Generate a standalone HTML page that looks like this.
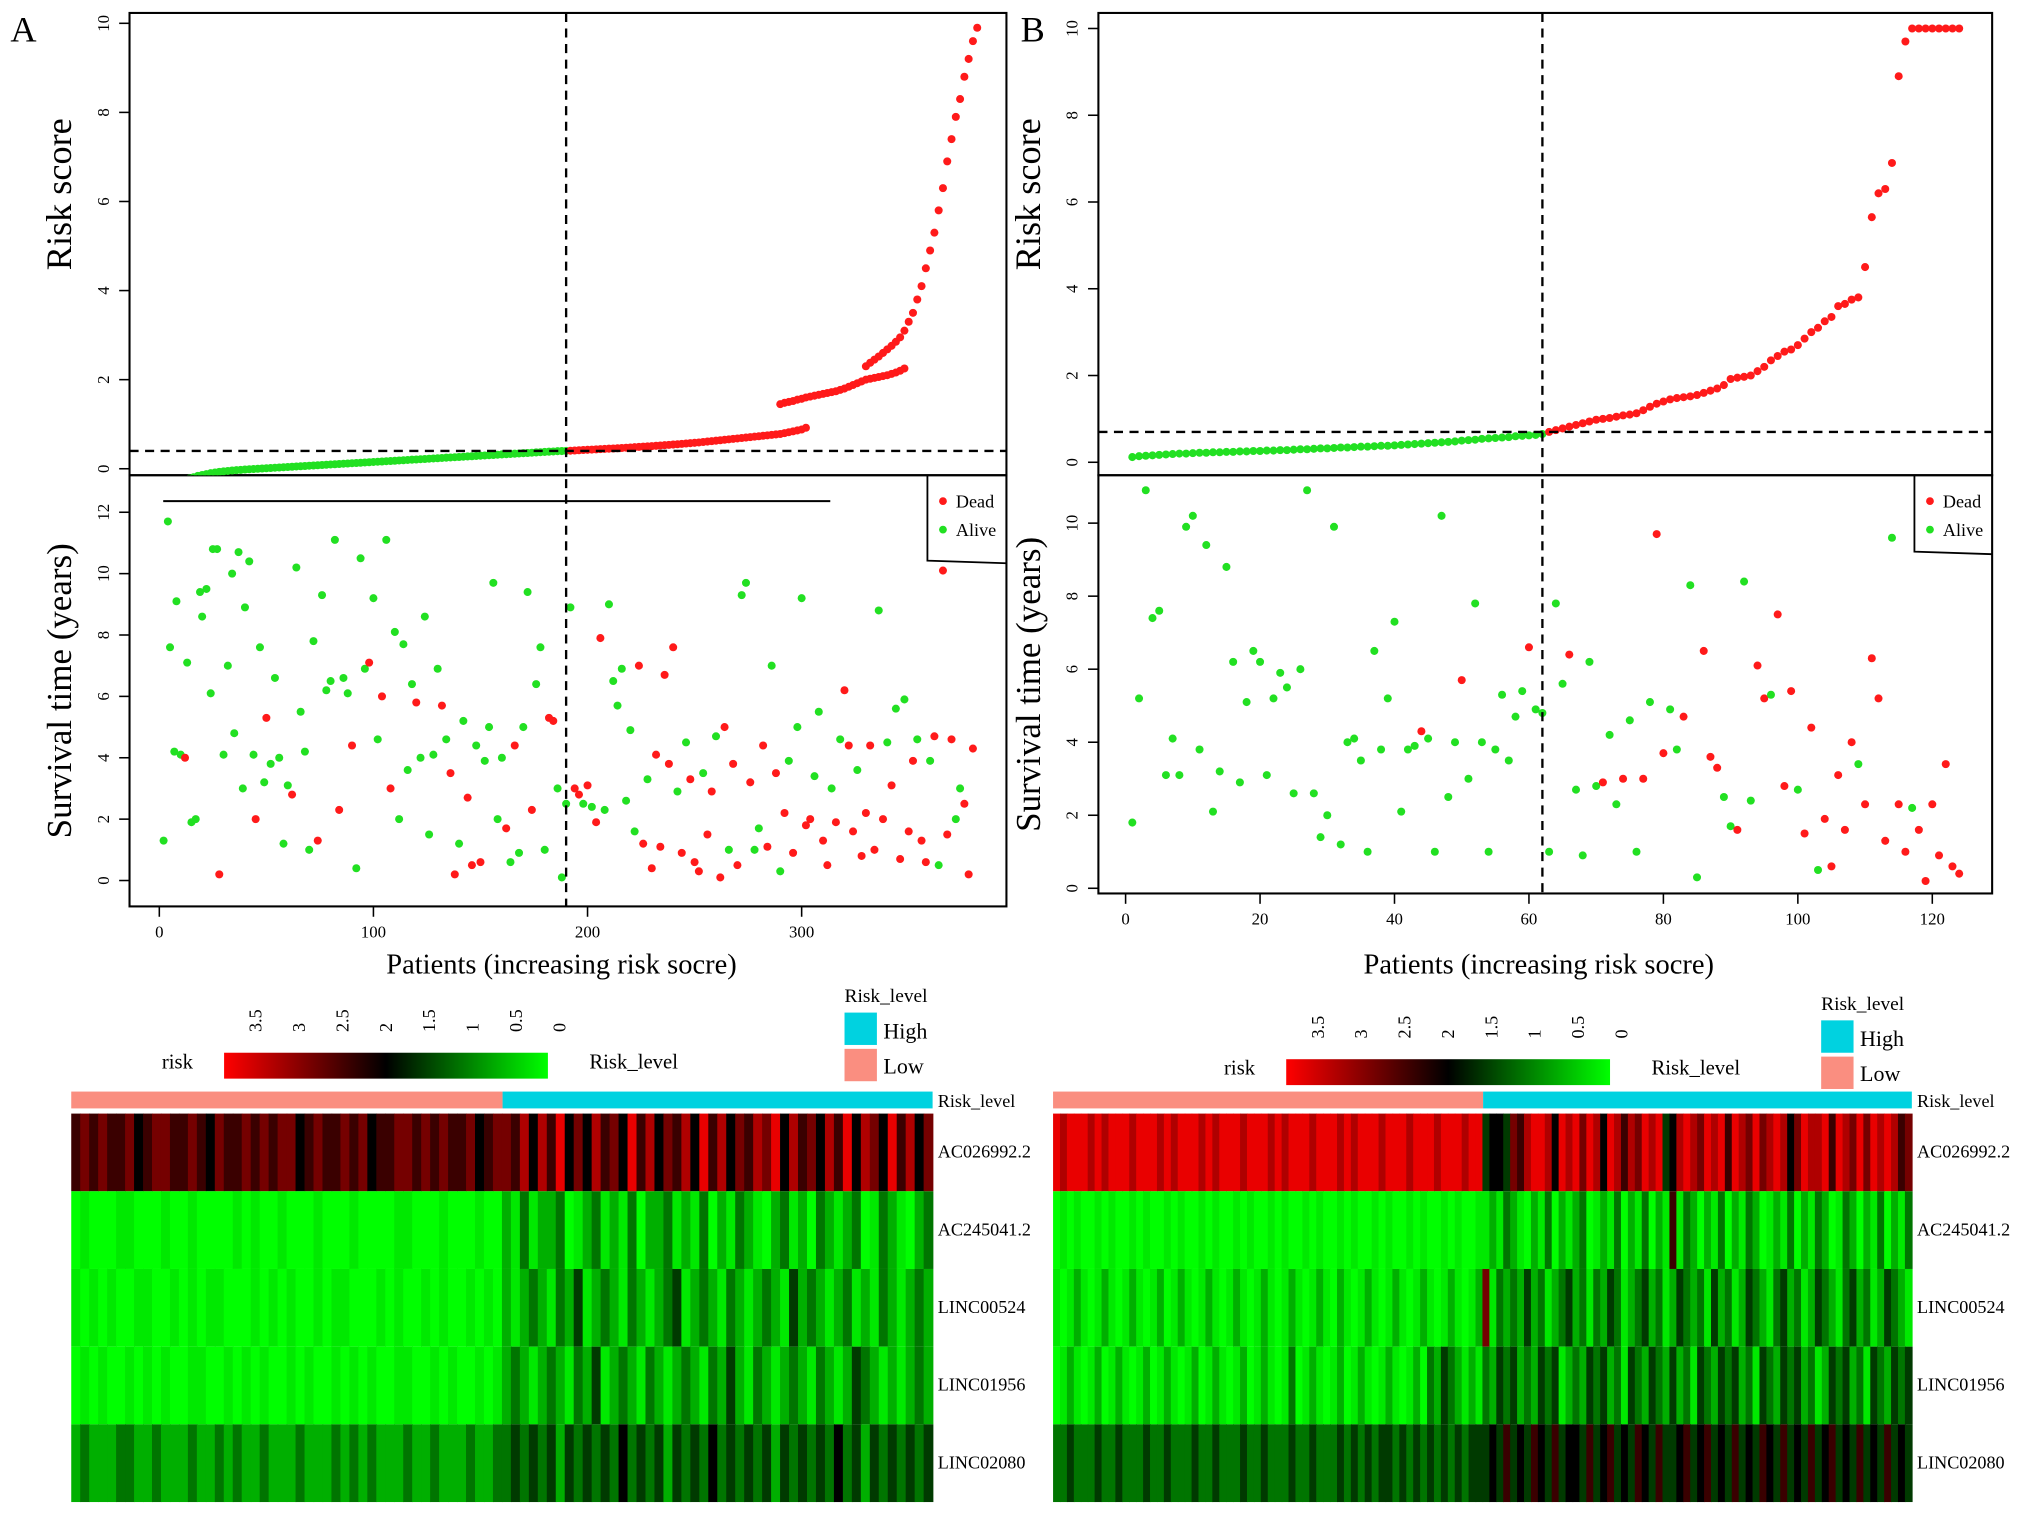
<!DOCTYPE html>
<html><head><meta charset="utf-8"><style>
html,body{margin:0;padding:0;background:#fff;}
svg{display:block;font-family:"Liberation Serif",serif;}
</style></head><body>
<svg id="fig" width="2031" height="1515" viewBox="0 0 1568 1170" preserveAspectRatio="none" xmlns="http://www.w3.org/2000/svg">
<defs>
<clipPath id="clipAT"><rect x="100" y="10" width="677" height="357"/></clipPath>
<clipPath id="clipBT"><rect x="848" y="10" width="690" height="357"/></clipPath>
<linearGradient id="riskGrad" x1="0" x2="1" y1="0" y2="0">
<stop offset="0" stop-color="#ff0000"/><stop offset="0.5" stop-color="#000000"/><stop offset="1" stop-color="#00ff00"/>
</linearGradient>
</defs>
<g id="root"></g>
</svg>
<script>
// ---------- DATA ----------
const riskA1Start = 0; // patient of first value, step 2
const riskA1 = [-0.5,-0.45,-0.4,-0.36,-0.32,-0.28,-0.25,-0.22,-0.19,-0.16,-0.14,-0.12,-0.1,-0.085,-0.07,-0.06,-0.05,-0.04,-0.032,-0.025,-0.018,-0.012,-0.006,0.0,
0.006,0.011,0.017,0.023,0.028,0.034,0.039,0.045,0.051,0.056,
0.062,0.068,0.073,0.079,0.084,0.09,0.096,0.101,0.107,0.113,
0.118,0.124,0.129,0.135,0.141,0.146,0.152,0.158,0.163,0.169,
0.174,0.18,0.186,0.191,0.197,0.203,0.208,0.214,0.219,0.225,
0.231,0.236,0.242,0.248,0.253,0.259,0.264,0.27,0.276,0.281,
0.287,0.293,0.298,0.304,0.309,0.315,0.321,0.326,0.332,0.338,
0.343,0.349,0.354,0.36,0.366,0.371,0.377,0.383,0.388,0.394,
0.397,0.4,
0.405,0.41,0.415,0.42,0.425,0.43,0.435,0.44,0.445,0.45,
0.455,0.46,0.466,0.472,0.478,0.484,0.49,0.496,0.502,0.508,
0.515,0.522,0.529,0.536,0.543,0.55,0.558,0.566,0.574,0.582,
0.59,0.6,0.61,0.62,0.63,0.64,0.65,0.66,0.67,0.68,
0.69,0.7,0.71,0.72,0.73,0.74,0.75,0.76,0.77,0.78,
0.8,0.82,0.84,0.86,0.88,0.92];
const riskA2Start = 290;
const riskA2 = [1.45,1.48,1.5,1.52,1.55,1.57,1.6,1.62,1.64,1.66,1.68,1.7,1.72,1.74,1.77,1.8,1.84,1.88,1.92,1.96,
2.3,2.38,2.45,2.52,2.6,2.68,2.76,2.85,2.95,3.1,3.3,3.5,3.8,4.1,4.5,4.9,5.3,5.8,6.3,6.9,7.4,7.9,8.3,8.8,9.2,9.6,9.9];
const riskA3Start = 330;
const riskA3 = [2.0,2.02,2.04,2.06,2.08,2.1,2.13,2.16,2.2,2.25];
const cutA = 190, cutValA = 0.4;

const survPatA = [2,4,5,7,8,10,12,13,15,17, 19,20,22,24,25,27,28,30,32,34, 35,37,39,40,42,44,45,47,49,50,
52,54,56,58,60,62,64,66,68,70, 72,74,76,78,80,82,84,86,88,90, 92,94,96,98,100,102,104,106,108,110,
112,114,116,118,120,122,124,126,128,130, 132,134,136,138,140,142,144,146,148,150, 152,154,156,158,160,162,164,166,168,170,
172,174,176,178,180,182,184,186,188,190, 192,194,196,198,200,202,204,206,208,210, 212,214,216,218,220,222,224,226,228,230,
232,234,236,238,240,242,244,246,248,250, 252,254,256,258,260,262,264,266,268,270, 272,274,276,278,280,282,284,286,288,290,
292,294,296,298,300,302,304,306,308,310, 312,314,316,318,320,322,324,326,328,330, 332,334,336,338,340,342,344,346,348,350,
352,354,356,358,360,362,364,366,368,370, 372,374,376,378,380];
const survYrsA = [1.3,11.7,7.6,4.2,9.1,4.1,4.0,7.1,1.9,2.0, 9.4,8.6,9.5,6.1,10.8,10.8,0.2,4.1,7.0,10.0, 4.8,10.7,3.0,8.9,10.4,4.1,2.0,7.6,3.2,5.3,
3.8,6.6,4.0,1.2,3.1,2.8,10.2,5.5,4.2,1.0, 7.8,1.3,9.3,6.2,6.5,11.1,2.3,6.6,6.1,4.4, 0.4,10.5,6.9,7.1,9.2,4.6,6.0,11.1,3.0,8.1,
2.0,7.7,3.6,6.4,5.8,4.0,8.6,1.5,4.1,6.9, 5.7,4.6,3.5,0.2,1.2,5.2,2.7,0.5,4.4,0.6, 3.9,5.0,9.7,2.0,4.0,1.7,0.6,4.4,0.9,5.0,
9.4,2.3,6.4,7.6,1.0,5.3,5.2,3.0,0.1,2.5, 8.9,3.0,2.8,2.5,3.1,2.4,1.9,7.9,2.3,9.0, 6.5,5.7,6.9,2.6,4.9,1.6,7.0,1.2,3.3,0.4,
4.1,1.1,6.7,3.8,7.6,2.9,0.9,4.5,3.3,0.6, 0.3,3.5,1.5,2.9,4.7,0.1,5.0,1.0,3.8,0.5, 9.3,9.7,3.2,1.0,1.7,4.4,1.1,7.0,3.5,0.3,
2.2,3.9,0.9,5.0,9.2,1.8,2.0,3.4,5.5,1.3, 0.5,3.0,1.9,4.6,6.2,4.4,1.6,3.6,0.8,2.2, 4.4,1.0,8.8,2.0,4.5,3.1,5.6,0.7,5.9,1.6,
3.9,4.6,1.3,0.6,3.9,4.7,0.5,10.1,1.5,4.6, 2.0,3.0,2.5,0.2,4.3];
const survDeadA = [0,0,0,0,0,0,1,0,0,0, 0,0,0,0,0,0,1,0,0,0, 0,0,0,0,0,0,1,0,0,1,
0,0,0,0,0,1,0,0,0,0, 0,1,0,0,0,0,1,0,0,1, 0,0,0,1,0,0,1,0,1,0,
0,0,0,0,1,0,0,0,0,0, 1,0,1,1,0,0,1,1,0,1, 0,0,0,0,0,1,0,1,0,0,
0,1,0,0,0,1,1,0,0,0, 0,1,1,0,1,0,1,1,0,0, 0,0,0,0,0,0,1,1,0,1,
1,1,1,1,1,0,1,0,1,1, 1,0,1,1,0,1,1,0,1,1, 0,0,1,0,0,1,1,0,1,0,
1,0,1,0,0,1,1,0,0,1, 1,0,1,0,1,1,1,0,1,1, 1,1,0,1,0,1,0,1,0,1,
1,0,1,1,0,1,0,1,1,1, 0,0,1,1,1];

const riskB = [0.12,0.14,0.15,0.16,0.17,0.18,0.19,0.2,0.2,0.21,
0.22,0.22,0.23,0.23,0.24,0.24,0.25,0.25,0.26,0.26,
0.27,0.27,0.28,0.28,0.29,0.3,0.3,0.31,0.32,0.32,
0.33,0.34,0.34,0.35,0.36,0.36,0.37,0.38,0.38,0.39,
0.4,0.41,0.42,0.43,0.44,0.45,0.46,0.47,0.48,0.5,
0.51,0.52,0.54,0.55,0.56,0.57,0.58,0.6,0.61,0.62,
0.63,0.65,0.7,0.74,0.78,0.82,0.86,0.9,0.94,0.98,
1.0,1.02,1.05,1.08,1.1,1.13,1.2,1.28,1.35,1.4,
1.45,1.48,1.5,1.52,1.55,1.6,1.65,1.7,1.78,1.92,
1.95,1.97,2.0,2.1,2.2,2.35,2.45,2.55,2.6,2.7,
2.85,3.0,3.1,3.25,3.35,3.6,3.65,3.75,3.8,4.5,
5.65,6.2,6.3,6.9,8.9,9.7,10,10,10,10,10,10,10,10];
const cutB = 62, cutValB = 0.7;
const survYrsB = [1.8,5.2,10.9,7.4,7.6,3.1,4.1,3.1,9.9,10.2, 3.8,9.4,2.1,3.2,8.8,6.2,2.9,5.1,6.5,6.2,
3.1,5.2,5.9,5.5,2.6,6.0,10.9,2.6,1.4,2.0, 9.9,1.2,4.0,4.1,3.5,1.0,6.5,3.8,5.2,7.3,
2.1,3.8,3.9,4.3,4.1,1.0,10.2,2.5,4.0,5.7, 3.0,7.8,4.0,1.0,3.8,5.3,3.5,4.7,5.4,6.6,
4.9,4.8,1.0,7.8,5.6,6.4,2.7,0.9,6.2,2.8, 2.9,4.2,2.3,3.0,4.6,1.0,3.0,5.1,9.7,3.7,
4.9,3.8,4.7,8.3,0.3,6.5,3.6,3.3,2.5,1.7, 1.6,8.4,2.4,6.1,5.2,5.3,7.5,2.8,5.4,2.7,
1.5,4.4,0.5,1.9,0.6,3.1,1.6,4.0,3.4,2.3, 6.3,5.2,1.3,9.6,2.3,1.0,2.2,1.6,0.2,2.3,
0.9,3.4,0.6,0.4];
const survDeadB = [0,0,0,0,0,0,0,0,0,0, 0,0,0,0,0,0,0,0,0,0, 0,0,0,0,0,0,0,0,0,0, 0,0,0,0,0,0,0,0,0,0,
0,0,0,1,0,0,0,0,0,1, 0,0,0,0,0,0,0,0,0,1, 0,0,0,0,0,1,0,0,0,0, 1,0,0,1,0,0,1,0,1,1,
0,0,1,0,0,1,1,1,0,0, 1,0,0,1,1,0,1,1,1,0, 1,1,0,1,1,1,1,1,0,1, 1,1,1,0,1,1,0,1,1,1, 1,1,1,1];

const genes = ["AC026992.2","AC245041.2","LINC00524","LINC01956","LINC02080"];
const heatA = [
"676766756776676576676767756766767566776767667567768586957586759685768596857687958675869587596857",
"010001100010010000101001000100010000110001000100213122301231213022312130213210231203212301321023",
"101010011001010110001010100101100010100101001010212321324123213212341232132123214232123121321232",
"010100101010011001010100101001010100110010100101232123213241232132123213242132123213212432121232",
"232223322322232232322322232223232322232232223223343434243434353434243435343434243434353424343434"];
const heatB = [
"9899989899989998989998989998999898999899989899989998999899989945547689985989798598687989458987989698797898579889698797989867",
"0101001010010100101001010010100101001010010100101001010010100112132102130212301213021302161320213021320121302132013202130213",
"1012101210121012012101210121012101210121021012101210121012101271323242312342313243123423124323142312432134231243213423124321",
"0121012012101201210120121012012101301210120121012101203243212132434232434123243423143243242314324342314324342312434231432434",
"3343334334333433433343343334334333433433343434344343434343434445464546546455464564546546445645645464546546454645645464546454"];
const legendTicks = ["3.5","3","2.5","2","1.5","1","0.5","0"];
const xTicksA = [0,100,200,300], yTicksAT=[0,2,4,6,8,10], yTicksAB=[0,2,4,6,8,10,12];
const xTicksB = [0,20,40,60,80,100,120], yTicksBT=[0,2,4,6,8,10], yTicksBB=[0,2,4,6,8,10];

// ---------- DRAW ----------
const NS="http://www.w3.org/2000/svg";
const root=document.getElementById('root');
function mk(tag,attrs,parent){const e=document.createElementNS(NS,tag);for(const k in attrs)e.setAttribute(k,attrs[k]);(parent||root).appendChild(e);return e;}
function txt(s,x,y,size,parent,extra){const e=mk('text',Object.assign({x:x,y:y,'font-size':size,fill:'#000'},extra||{}),parent);e.textContent=s;return e;}
const RED="#ff1a1a", GRN="#22e022";

function panel(cfg){
  const g=mk('g',{});
  
  
  const f1=mk('rect',{x:cfg.L,y:10,width:cfg.R-cfg.L,height:357,fill:'none',stroke:'#000','stroke-width':1.6},g);
  
  
  const f2=mk('rect',{x:cfg.L,y:367,width:cfg.R-cfg.L,height:cfg.B-367,fill:'none',stroke:'#000','stroke-width':1.6},g);
  
  
  const pg=mk('g',{'clip-path':'url(#'+cfg.clip+')'},g);
  
  
  cfg.riskSeries.forEach(s=>{
    s.vals.forEach((v,i)=>{
      const p=s.start+i*s.step;
      const c=mk('circle',{cx:cfg.x(p),cy:cfg.yt(v),r:3.1,fill:p<=cfg.cut?GRN:RED},pg);
      
      
    });
  });
  const sg=mk('g',{},g);
  
  
  cfg.survPat.forEach((p,i)=>{
    const c=mk('circle',{cx:cfg.x(p),cy:cfg.yb(cfg.survYrs[i]),r:3.1,fill:cfg.survDead[i]?RED:GRN},sg);
    
    
  });
  const d1=mk('line',{x1:cfg.x(cfg.cut),x2:cfg.x(cfg.cut),y1:10,y2:cfg.B,stroke:'#000','stroke-width':1.8,'stroke-dasharray':'7,5'},g);
  
  
  const d2=mk('line',{x1:cfg.L,x2:cfg.R,y1:cfg.yt(cfg.cutVal),y2:cfg.yt(cfg.cutVal),stroke:'#000','stroke-width':1.8,'stroke-dasharray':'7,5'},g);
  
  
  function yax(ticks,fy,nm){
    ticks.forEach(t=>{
      const y=fy(t);
      const l=mk('line',{x1:cfg.L-8,x2:cfg.L,y1:y,y2:y,stroke:'#000','stroke-width':1.2},g);
      
      
      const tx=txt(String(t),cfg.L-16,y,13,g,{'text-anchor':'middle',transform:'rotate(-90 '+(cfg.L-16)+' '+y+')'});
      
      
    });
  }
  yax(cfg.ytT,cfg.yt,'risk-y');
  yax(cfg.ytB,cfg.yb,'survival-y');
  cfg.xt.forEach(t=>{
    const x=cfg.x(t);
    const l=mk('line',{x1:x,x2:x,y1:cfg.B,y2:cfg.B+8,stroke:'#000','stroke-width':1.2},g);
    
    
    const tx=txt(String(t),x,cfg.B+24,13,g,{'text-anchor':'middle'});
    
    
  });
  const yt1=txt('Risk score',cfg.L-45,150,28,g,{'text-anchor':'middle',transform:'rotate(-90 '+(cfg.L-45)+' 150)'});
  
  
  const yt2=txt('Survival time (years)',cfg.L-45,(367+cfg.B)/2,27,g,{'text-anchor':'middle',transform:'rotate(-90 '+(cfg.L-45)+' '+((367+cfg.B)/2)+')'});
  
  
  const xt=txt('Patients (increasing risk socre)',(cfg.L+cfg.R)/2-5,752,22,g,{'text-anchor':'middle'});
  
  
  const pl=txt(cfg.label,cfg.labelX,32,28,g);
  
  
  const lg=mk('g',{},g);
  
  
  mk('path',{d:'M'+cfg.lgX+' 367 L'+cfg.lgX+' '+(cfg.lgB-2)+' L'+cfg.R+' '+cfg.lgB,fill:'none',stroke:'#000','stroke-width':1.4},lg);
  mk('circle',{cx:cfg.lgX+12,cy:387,r:3,fill:RED},lg);
  mk('circle',{cx:cfg.lgX+12,cy:409,r:3,fill:GRN},lg);
  txt('Dead',cfg.lgX+22,392,14,lg);
  txt('Alive',cfg.lgX+22,414,14,lg);
  if(cfg.extraLine){
    const el=mk('line',{x1:126,x2:641,y1:387,y2:387,stroke:'#000','stroke-width':1.6},g);
    
    
  }
}

const xA=p=>123+p*1.653, yAt=v=>362-v*34.4, yAb=v=>680-v*23.7;
panel({name:'panel-a',L:100,R:777,B:700,clip:'clipAT',x:xA,yt:yAt,yb:yAb,cut:cutA,cutVal:cutValA,
  riskSeries:[{start:riskA1Start,step:2,vals:riskA1},{start:riskA2Start,step:2,vals:riskA2},{start:riskA3Start,step:2,vals:riskA3}],
  survPat:survPatA,survYrs:survYrsA,survDead:survDeadA,ytT:yTicksAT,ytB:yTicksAB,xt:xTicksA,label:'A',labelX:8,lgX:716,lgB:435,extraLine:true});
const xB=p=>869+p*5.19, yBt=v=>357-v*33.5, yBb=v=>686-v*28.2;
panel({name:'panel-b',L:848,R:1538,B:690,clip:'clipBT',x:xB,yt:yBt,yb:yBb,cut:cutB,cutVal:cutValB,
  riskSeries:[{start:1,step:1,vals:riskB}],
  survPat:survYrsB.map((_,i)=>i+1),survYrs:survYrsB,survDead:survDeadB,ytT:yTicksBT,ytB:yTicksBB,xt:xTicksB,label:'B',labelX:788,lgX:1478,lgB:428});

function colorOf(v){
  const t=(v-2)/1.75;
  if(t>=0){return 'rgb('+Math.round(255*Math.min(t,1))+',0,0)';}
  return 'rgb(0,'+Math.round(255*Math.min(-t,1))+',0)';
}
function heatmap(cfg){
  const g=mk('g',{});
  
  
  const lo=mk('rect',{x:cfg.L,y:843,width:cfg.split-cfg.L,height:13,fill:'#fa8e80'},g);
  
  
  const hi=mk('rect',{x:cfg.split,y:843,width:cfg.R-cfg.split,height:13,fill:'#00d2e0'},g);
  
  
  const rl=txt('Risk_level',cfg.R+4,855,14,g);
  
  
  const rowH=60, top=860;
  cfg.rows.forEach((s,r)=>{
    const n=s.length, w=(cfg.R-cfg.L)/n;
    for(let i=0;i<n;i++){
      const c=mk('rect',{x:cfg.L+i*w,y:top+r*rowH,width:w+0.6,height:rowH,fill:colorOf(+s[i]*0.4)},g);
      
      
    }
    const lb=txt(genes[r],cfg.R+4,top+r*rowH+34,14,g);
    
    
  });
  const lg=mk('g',{},g);
  
  
  txt('risk',cfg.gx-48,cfg.gy+12,16,lg);
  mk('rect',{x:cfg.gx,y:cfg.gy,width:250,height:20,fill:'url(#riskGrad)'},lg);
  legendTicks.forEach((t,i)=>{
    const x=cfg.gx+24+i*33.5, y=cfg.gy-16;
    txt(t,x,y,14,lg,{transform:'rotate(-90 '+x+' '+y+')'}).setAttribute('dy','5');
  });
  txt('Risk_level',cfg.gx+282,cfg.gy+12,16,lg);
  const ll=mk('g',{},g);
  
  
  txt('Risk_level',cfg.lx,cfg.ly-8,15,ll);
  mk('rect',{x:cfg.lx,y:cfg.ly,width:25,height:25,fill:'#00d2e0'},ll);
  mk('rect',{x:cfg.lx,y:cfg.ly+28,width:25,height:25,fill:'#fa8e80'},ll);
  txt('High',cfg.lx+30,cfg.ly+20,17,ll);
  txt('Low',cfg.lx+30,cfg.ly+47,17,ll);
}
heatmap({name:'heatmap-a',L:55,R:720,split:388,rows:heatA,gx:173,gy:813,lx:652,ly:782});
heatmap({name:'heatmap-b',L:813,R:1476,split:1145,rows:heatB,gx:993,gy:818,lx:1406,ly:788});
</script>
</body></html>
